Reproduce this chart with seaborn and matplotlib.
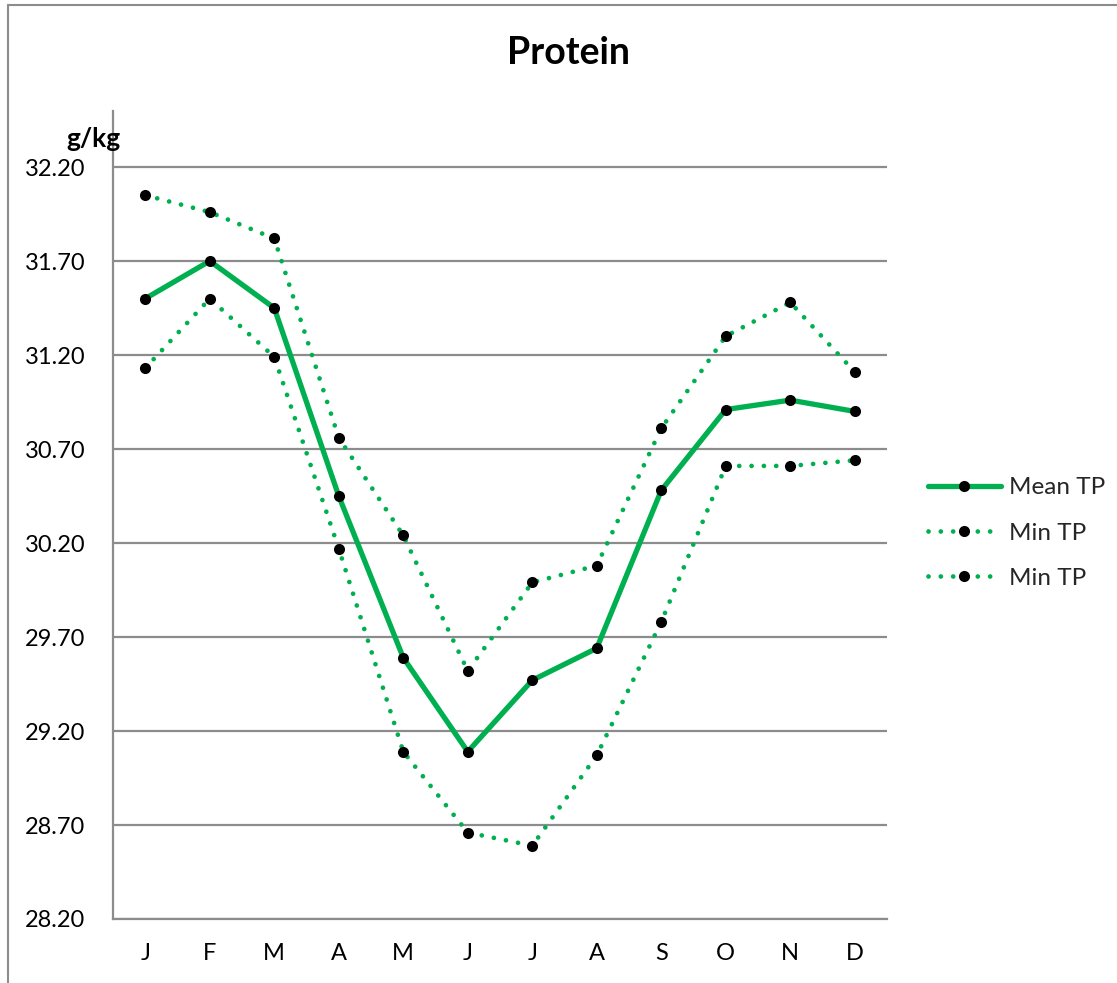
import numpy as np
import pandas as pd
import matplotlib
matplotlib.use("Agg")
import matplotlib.pyplot as plt
from matplotlib.lines import Line2D
import seaborn as sns

# data
months = ["J", "F", "M", "A", "M", "J", "J", "A", "S", "O", "N", "D"]
mean_tp = [31.50, 31.70, 31.45, 30.45, 29.59, 29.09, 29.47, 29.64, 30.48, 30.91, 30.96, 30.90]
upper_tp = [32.05, 31.96, 31.82, 30.76, 30.24, 29.52, 29.99, 30.08, 30.81, 31.30, 31.48, 31.11]
lower_tp = [31.13, 31.50, 31.19, 30.17, 29.09, 28.66, 28.59, 29.07, 29.78, 30.61, 30.61, 30.64]
yticks = [28.2, 28.7, 29.2, 29.7, 30.2, 30.7, 31.2, 31.7, 32.2]

sns.set_style("white")
plt.rcParams["font.family"] = ["Lato", "DejaVu Sans"]

GREEN = "#00B050"
GRID = "#8c8c8c"

fig = plt.figure(figsize=(11.17, 9.83), dpi=100)
ax = fig.add_axes([113 / 1117, 1 - 919 / 983, (887 - 113) / 1117, (919 - 111) / 983])

x = np.arange(len(months))
df = pd.DataFrame({"x": x, "mean": mean_tp, "upper": upper_tp, "lower": lower_tp})

marker_kw = dict(marker="o", markersize=8, markerfacecolor="black",
                 markeredgecolor="black", markeredgewidth=0)

sns.lineplot(data=df, x="x", y="mean", ax=ax, color=GREEN, linewidth=3.8,
             label="Mean TP", zorder=3, **marker_kw)
sns.lineplot(data=df, x="x", y="upper", ax=ax, color=GREEN, linewidth=3.4,
             dashes=(0.01, 2.6), dash_capstyle="round", label="Min TP",
             zorder=3, **marker_kw)
sns.lineplot(data=df, x="x", y="lower", ax=ax, color=GREEN, linewidth=3.4,
             dashes=(0.01, 2.6), dash_capstyle="round", label="Min TP",
             zorder=3, **marker_kw)

ax.set_xlim(-0.5, 11.5)
ax.set_ylim(28.2, 32.498)
ax.set_xticks(x)
ax.set_xticklabels(months)
ax.set_yticks(yticks)
ax.set_yticklabels([f"{v:.2f}" for v in yticks])
ax.tick_params(axis="both", length=0, labelsize=17, colors="black")
ax.tick_params(axis="x", pad=17)
ax.tick_params(axis="y", pad=20)
ax.set_xlabel("")
ax.set_ylabel("")

ax.grid(False)
for v in yticks:
    ax.axhline(v, color=GRID, linewidth=1.6, zorder=1)
for side in ["top", "right"]:
    ax.spines[side].set_visible(False)
ax.spines["left"].set_color(GRID)
ax.spines["left"].set_linewidth(1.6)
ax.spines["bottom"].set_color(GRID)
ax.spines["bottom"].set_linewidth(1.6)

ax.legend_.remove()
handles, labels = ax.get_legend_handles_labels()
fig.legend(handles, labels, loc="center left", bbox_to_anchor=(906 / 1117, 1 - 533 / 983),
           frameon=False, fontsize=17.5, handlelength=3.0, labelspacing=1.0,
           handletextpad=0.35)

fig.text(568 / 1117, 1 - 53 / 983, "Protein", ha="center", va="center",
         fontsize=27, fontweight="bold", color="black")
fig.text(93 / 1117, 1 - 139 / 983, "g/kg", ha="center", va="center",
         fontsize=19, fontweight="bold", color="black")

# chart border (left and top edges visible in the reference)
fig.add_artist(Line2D([8 / 1117, 8 / 1117], [0, 1 - 5 / 983], transform=fig.transFigure,
                      color="#8c8c8c", linewidth=1.5))
fig.add_artist(Line2D([8 / 1117, 1], [1 - 5 / 983, 1 - 5 / 983], transform=fig.transFigure,
                      color="#8c8c8c", linewidth=1.5))

fig.savefig("out.png", dpi=100)
